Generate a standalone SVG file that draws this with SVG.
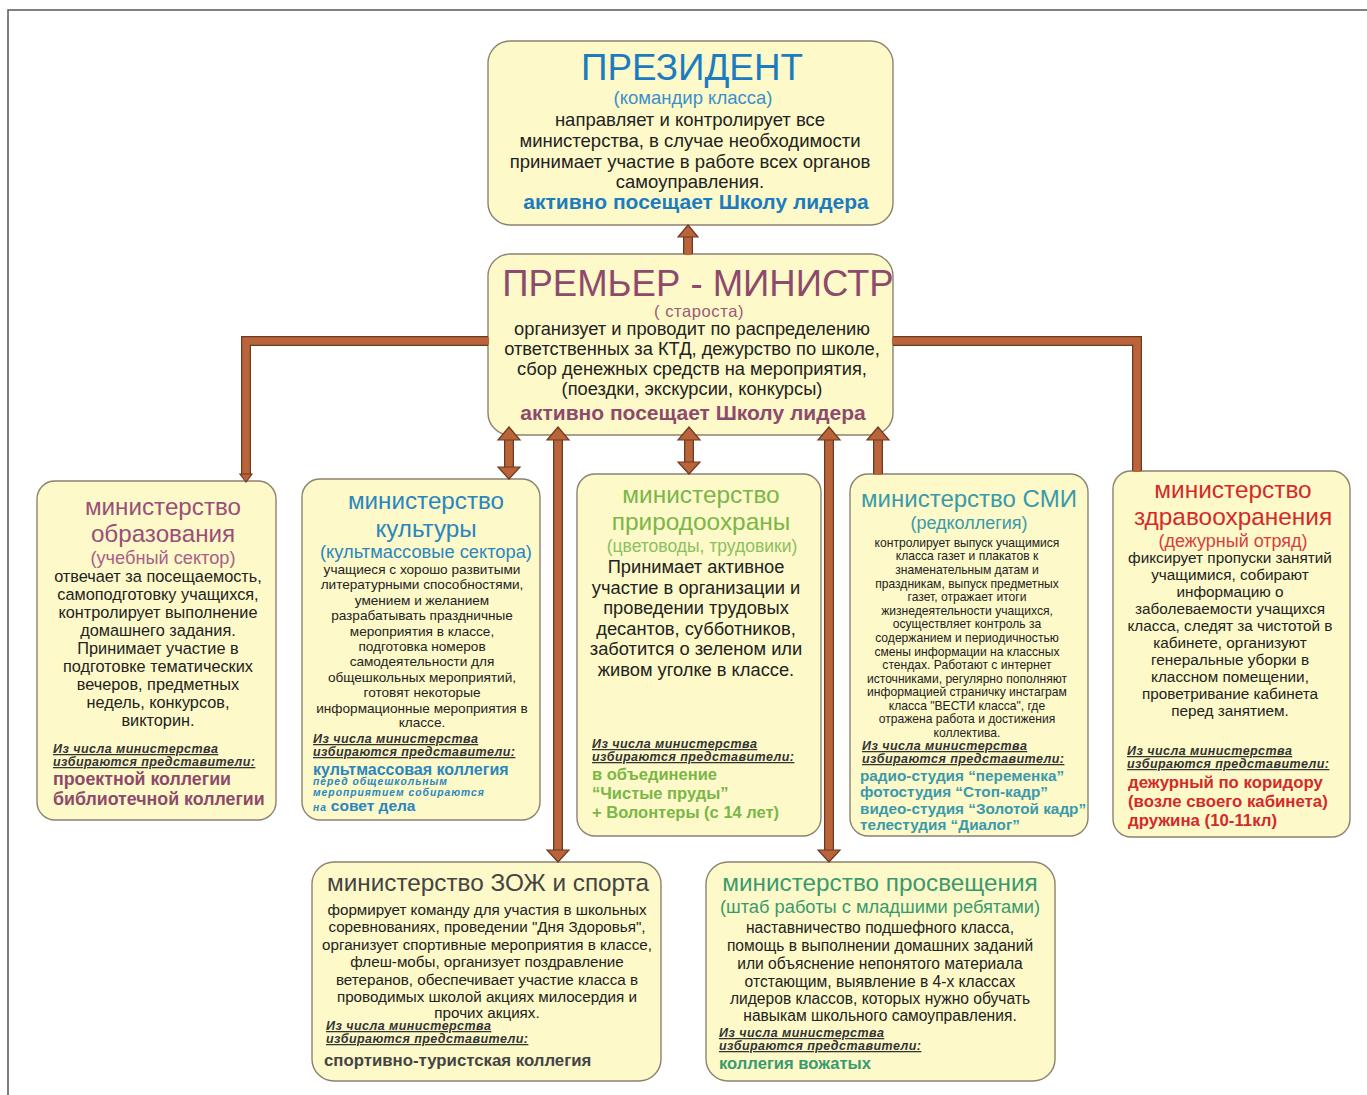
<svg xmlns="http://www.w3.org/2000/svg" width="1367" height="1095" viewBox="0 0 1367 1095">
<defs>
<style>
text{font-family:"Liberation Sans",Arial,sans-serif;}
.box{fill:#fdf9c8;stroke:#8c8270;stroke-width:1.4;}
.c{text-anchor:middle;}
.body{fill:#222;}
.sel{font-size:12.5px;letter-spacing:0.45px;font-style:italic;font-weight:bold;fill:#333;text-decoration:underline;}
.ln{fill:none;stroke-linecap:butt;stroke-linejoin:miter;}
.lo{stroke:#6e3a1f;stroke-width:10;}
.li{stroke:#b9643a;stroke-width:7.5;}
.ah{fill:#b9643a;stroke:#6e3a1f;stroke-width:1.2;}
</style>
</defs>
<rect width="1367" height="1095" fill="#fff"/>
<path d="M8 1095 V10 H1367" fill="none" stroke="#555" stroke-width="1.5"/>

<g id="president">
<rect class="box" x="488" y="41" width="405" height="184" rx="22"/>
<text class="c" x="692" y="80" font-size="36.8" fill="#1b7cc0">ПРЕЗИДЕНТ</text>
<text class="c" x="693" y="104" font-size="18.5" fill="#3a90cc">(командир класса)</text>
<g class="c body" font-size="18.5">
<text x="690" y="126">направляет и контролирует все</text>
<text x="690" y="147">министерства, в случае необходимости</text>
<text x="690" y="168">принимает участие в работе всех органов</text>
<text x="690" y="188">самоуправления.</text>
</g>
<text class="c" x="696" y="209" font-size="21" font-weight="bold" fill="#1b7cc0">активно посещает Школу лидера</text>
</g>

<g id="premier">
<rect class="box" x="488" y="254" width="405" height="181" rx="22"/>
<text class="c" x="698" y="296" font-size="36.5" fill="#8e4a6c">ПРЕМЬЕР - МИНИСТР</text>
<text class="c" x="699" y="317" font-size="16.5" letter-spacing="0.6" fill="#9a5a7a">( староста)</text>
<g class="c body" font-size="18.3">
<text x="692" y="335">организует и проводит по распределению</text>
<text x="692" y="355">ответственных за КТД,  дежурство по школе,</text>
<text x="692" y="375">сбор денежных средств на мероприятия,</text>
<text x="692" y="395">(поездки, экскурсии, конкурсы)</text>
</g>
<text class="c" x="693" y="420" font-size="21" font-weight="bold" fill="#8e4a6c">активно посещает Школу лидера</text>
</g>

<g id="min-education">
<rect class="box" x="37" y="481" width="239" height="339" rx="18"/>
<text class="c" x="163" y="515" font-size="24.2" fill="#9a4f7a">министерство</text>
<text class="c" x="163" y="542" font-size="24.2" fill="#9a4f7a">образования</text>
<text class="c" x="163" y="564" font-size="18.2" fill="#a8608a">(учебный сектор)</text>
<g class="c body" font-size="16.3">
<text x="158" y="582">отвечает за посещаемость,</text>
<text x="158" y="600">самоподготовку учащихся,</text>
<text x="158" y="618">контролирует выполнение</text>
<text x="158" y="636">домашнего задания.</text>
<text x="158" y="654">Принимает участие в</text>
<text x="158" y="672">подготовке тематических</text>
<text x="158" y="690">вечеров, предметных</text>
<text x="158" y="708">недель, конкурсов,</text>
<text x="158" y="726">викторин.</text>
</g>
<text class="sel" x="53" y="753">Из числа министерства</text>
<text class="sel" x="53" y="766">избираются представители:</text>
<text x="53" y="785" font-size="17.8" font-weight="bold" fill="#8e4a6c">проектной коллегии</text>
<text x="53" y="805" font-size="17.8" font-weight="bold" fill="#8e4a6c">библиотечной коллегии</text>
</g>

<g id="min-culture">
<rect class="box" x="302" y="479" width="238" height="341" rx="18"/>
<text class="c" x="426" y="509" font-size="24.2" fill="#2a86c0">министерство</text>
<text class="c" x="426" y="537" font-size="24.2" fill="#2a86c0">культуры</text>
<text class="c" x="426" y="558" font-size="18.3" fill="#2a86c0">(культмассовые сектора)</text>
<g class="c body" font-size="13.6">
<text x="422" y="574">учащиеся с хорошо развитыми</text>
<text x="422" y="589">литературными способностями,</text>
<text x="422" y="605">умением и желанием</text>
<text x="422" y="620">разрабатывать праздничные</text>
<text x="422" y="636">мероприятия в классе,</text>
<text x="422" y="651">подготовка номеров</text>
<text x="422" y="666">самодеятельности для</text>
<text x="422" y="682">общешкольных мероприятий,</text>
<text x="422" y="697">готовят некоторые</text>
<text x="422" y="713">информационные мероприятия в</text>
<text x="422" y="727">классе.</text>
</g>
<text class="sel" x="313" y="743">Из числа министерства</text>
<text class="sel" x="313" y="756">избираются представители:</text>
<text x="313" y="775" font-size="16" font-weight="bold" fill="#2a86c0">культмассовая коллегия</text>
<g font-size="10.3" font-weight="bold" font-style="italic" fill="#2a86c0" letter-spacing="1">
<text x="313" y="785">перед общешкольным</text>
<text x="313" y="796">мероприятием собираются</text>
<text x="313" y="811">на <tspan font-size="15.5" font-style="normal" letter-spacing="0">совет дела</tspan></text>
</g>
</g>

<g id="min-nature">
<rect class="box" x="577" y="474" width="244" height="362" rx="18"/>
<text class="c" x="701" y="503" font-size="24.4" fill="#7ab648">министерство</text>
<text class="c" x="701" y="530" font-size="24.4" fill="#7ab648">природоохраны</text>
<text class="c" x="702" y="552" font-size="17.5" fill="#8cc060">(цветоводы, трудовики)</text>
<g class="c body" font-size="18.3">
<text x="696" y="573">Принимает активное</text>
<text x="696" y="594">участие в организации и</text>
<text x="696" y="614">проведении трудовых</text>
<text x="696" y="635">десантов, субботников,</text>
<text x="696" y="655">заботится о зеленом или</text>
<text x="696" y="676">живом уголке в классе.</text>
</g>
<text class="sel" x="592" y="748">Из числа министерства</text>
<text class="sel" x="592" y="761">избираются представители:</text>
<g font-size="16.5" font-weight="bold" fill="#7ab648">
<text x="592" y="780">в объединение</text>
<text x="592" y="799">“Чистые пруды”</text>
<text x="592" y="818">+ Волонтеры (с 14 лет)</text>
</g>
</g>

<g id="min-media">
<rect class="box" x="850" y="474" width="238" height="362" rx="18"/>
<text class="c" x="969" y="507" font-size="24" fill="#3a9aac">министерство СМИ</text>
<text class="c" x="969" y="529" font-size="18" fill="#3a9aac">(редколлегия)</text>
<g class="c body" font-size="12.1">
<text x="967" y="547">контролирует выпуск учащимися</text>
<text x="967" y="560">класса газет и плакатов к</text>
<text x="967" y="574">знаменательным датам и</text>
<text x="967" y="588">праздникам, выпуск предметных</text>
<text x="967" y="601">газет, отражает итоги</text>
<text x="967" y="615">жизнедеятельности учащихся,</text>
<text x="967" y="628">осуществляет контроль за</text>
<text x="967" y="642">содержанием и периодичностью</text>
<text x="967" y="656">смены информации на классных</text>
<text x="967" y="669">стендах. Работают с интернет</text>
<text x="967" y="683">источниками, регулярно пополняют</text>
<text x="967" y="696">информацией страничку инстаграм</text>
<text x="967" y="710">класса "ВЕСТИ класса", где</text>
<text x="967" y="723">отражена работа и достижения</text>
<text x="967" y="737">коллектива.</text>
</g>
<text class="sel" x="862" y="750">Из числа министерства</text>
<text class="sel" x="862" y="763">избираются представители:</text>
<g font-size="15.3" font-weight="bold" fill="#3a9aac">
<text x="860" y="781">радио-студия “переменка”</text>
<text x="860" y="797">фотостудия “Стоп-кадр”</text>
<text x="860" y="814">видео-студия “Золотой кадр”</text>
<text x="860" y="830">телестудия “Диалог”</text>
</g>
</g>

<g id="min-health">
<rect class="box" x="1113" y="471" width="237" height="366" rx="18"/>
<text class="c" x="1233" y="498" font-size="24.4" fill="#d42a2a">министерство</text>
<text class="c" x="1233" y="525" font-size="24.4" fill="#d42a2a">здравоохранения</text>
<text class="c" x="1233" y="547" font-size="18" fill="#d84040">(дежурный отряд)</text>
<g class="c body" font-size="15.3">
<text x="1230" y="563">фиксирует пропуски занятий</text>
<text x="1230" y="580">учащимися, собирают</text>
<text x="1230" y="597">информацию о</text>
<text x="1230" y="614">заболеваемости учащихся</text>
<text x="1230" y="631">класса, следят за чистотой в</text>
<text x="1230" y="648">кабинете, организуют</text>
<text x="1230" y="665">генеральные уборки в</text>
<text x="1230" y="682">классном помещении,</text>
<text x="1230" y="699">проветривание кабинета</text>
<text x="1230" y="716">перед занятием.</text>
</g>
<text class="sel" x="1127" y="755">Из числа министерства</text>
<text class="sel" x="1127" y="768">избираются представители:</text>
<g font-size="16.8" font-weight="bold" fill="#d42a2a">
<text x="1128" y="788">дежурный по коридору</text>
<text x="1128" y="807">(возле своего кабинета)</text>
<text x="1128" y="826">дружина (10-11кл)</text>
</g>
</g>

<g id="min-sport">
<rect class="box" x="312" y="862" width="349" height="219" rx="22"/>
<text class="c" x="488" y="891" font-size="24.3" fill="#444">министерство ЗОЖ и спорта</text>
<g class="c body" font-size="15.2">
<text x="487" y="915">формирует команду для участия в школьных</text>
<text x="487" y="932">соревнованиях, проведении "Дня Здоровья",</text>
<text x="487" y="950">организует спортивные мероприятия в классе,</text>
<text x="487" y="967">флеш-мобы, организует поздравление</text>
<text x="487" y="985">ветеранов, обеспечивает участие класса в</text>
<text x="487" y="1002">проводимых школой акциях милосердия и</text>
<text x="487" y="1018">прочих акциях.</text>
</g>
<text class="sel" x="326" y="1030">Из числа министерства</text>
<text class="sel" x="326" y="1043">избираются представители:</text>
<text x="324" y="1066" font-size="16.8" font-weight="bold" fill="#444">спортивно-туристская коллегия</text>
</g>

<g id="min-enlightenment">
<rect class="box" x="706" y="862" width="349" height="219" rx="22"/>
<text class="c" x="880" y="891" font-size="24.3" fill="#3a9a6e">министерство просвещения</text>
<text class="c" x="880" y="913" font-size="18.3" fill="#3a9a6e">(штаб работы с младшими ребятами)</text>
<g class="c body" font-size="15.6">
<text x="880" y="933">наставничество подшефного класса,</text>
<text x="880" y="951">помощь в выполнении домашних заданий</text>
<text x="880" y="969">или объяснение непонятого материала</text>
<text x="880" y="987">отстающим, выявление в 4-х классах</text>
<text x="880" y="1004">лидеров классов, которых нужно обучать</text>
<text x="880" y="1021">навыкам школьного самоуправления.</text>
</g>
<text class="sel" x="719" y="1037">Из числа министерства</text>
<text class="sel" x="719" y="1050">избираются представители:</text>
<text x="719" y="1069" font-size="16.6" font-weight="bold" fill="#3a9a6e">коллегия вожатых</text>
</g>

<g id="connectors">
<g class="ln lo">
<path d="M688 254 V236"/>
<path d="M488 341 H246 V476"/>
<path d="M893 341 H1137 V471"/>
<path d="M509 440 V468"/>
<path d="M689 440 V463"/>
<path d="M878 440 V474"/>
<path d="M558 440 V851"/>
<path d="M829 440 V851"/>
</g>
<g class="ln li">
<path d="M688 255 V235"/>
<path d="M489 341 H246 V477"/>
<path d="M892 341 H1137 V472"/>
<path d="M509 439 V469"/>
<path d="M689 439 V464"/>
<path d="M878 439 V475"/>
<path d="M558 439 V852"/>
<path d="M829 439 V852"/>
</g>
<g class="ah">
<polygon points="688,225 698,237 678,237"/>
<polygon points="246,482 240,474 252,474"/>
<polygon points="509,427 520,440 498,440"/>
<polygon points="509,479 520,467 498,467"/>
<polygon points="689,427 700,440 678,440"/>
<polygon points="689,474 700,462 678,462"/>
<polygon points="878,427 889,440 867,440"/>
<polygon points="558,427 569,440 547,440"/>
<polygon points="558,862 569,850 547,850"/>
<polygon points="829,427 840,440 818,440"/>
<polygon points="829,862 840,850 818,850"/>
</g>
</g>
</svg>
